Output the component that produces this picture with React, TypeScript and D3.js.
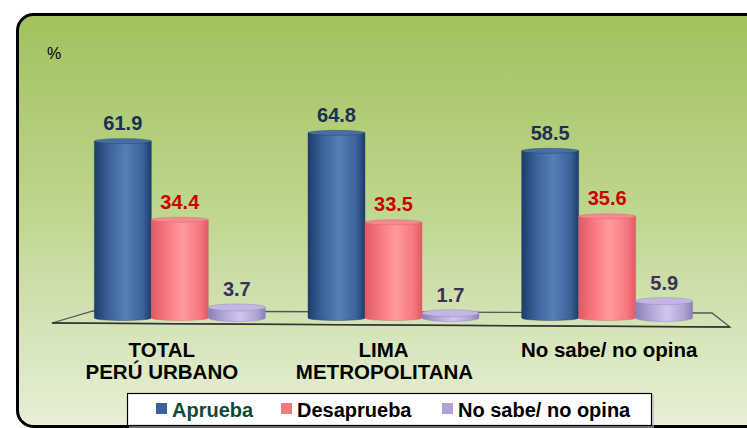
import React from "react";
import * as d3 from "d3";

const categories = [["TOTAL", "PERÚ URBANO"], ["LIMA", "METROPOLITANA"], ["No sabe/ no opina"]];
const seriesNames = ["Aprueba", "Desaprueba", "No sabe/ no opina"];
const aprueba = [61.9, 64.8, 58.5];
const desaprueba = [34.4, 33.5, 35.6];
const noSabe = [3.7, 1.7, 5.9];
const seriesValues = [aprueba, desaprueba, noSabe];

const W = 747, H = 428;
const FONT = "'Liberation Sans', Arial, Helvetica, sans-serif";

const palettes = [
  { dark: "#1d3c6a", mid: "#3a6399", light: "#557fb5", top: "#4670a5", label: "#1c2f52" },
  { dark: "#e05a63", mid: "#f7777e", light: "#ff9a9f", top: "#f28a8f", label: "#cc0000" },
  { dark: "#8d7fb7", mid: "#b1a2d6", light: "#d2c6ee", top: "#c3b5e4", label: "#3b2f5e" },
];
const legendText = ["#0f4a34", "#000000", "#000000"];
// horizontal offsets of category label lines relative to group centre
const labelShift = [[-18, -18], [-10, -9], [2]];

export default function App() {
  const base = 318;
  const x0 = d3.scaleBand<number>().domain(d3.range(categories.length)).range([73, 714]);
  const x1 = d3.scaleBand<number>().domain(d3.range(seriesNames.length)).range([0, 171]);
  const y = d3.scaleLinear().domain([0, 70]).range([base, 118]);
  const groupOffset = (x0.bandwidth() - 171) / 2;

  return (
    <svg width={W} height={H} style={{ position: "absolute", left: 0, top: 0, display: "block" }}>
      <defs>
        <linearGradient id="bg" x1="0" y1="0" x2="0" y2="1">
          <stop offset="0%" stopColor="#a1c25d" />
          <stop offset="45%" stopColor="#bcd58c" />
          <stop offset="100%" stopColor="#e7f0d8" />
        </linearGradient>
        {palettes.map((p, i) => (
          <linearGradient key={i} id={`cyl${i}`} x1="0" y1="0" x2="1" y2="0">
            <stop offset="0%" stopColor={p.dark} />
            <stop offset="25%" stopColor={p.mid} />
            <stop offset="55%" stopColor={p.light} />
            <stop offset="85%" stopColor={p.mid} />
            <stop offset="100%" stopColor={p.dark} />
          </linearGradient>
        ))}
      </defs>
      <rect x={17.5} y={14.5} width={780} height={412} rx={16} fill="url(#bg)" stroke="#000" strokeWidth={3} />
      <text x={47} y={59} fontFamily={FONT} fontSize={16} fill="#000">%</text>

      {/* floor */}
      <path d="M93,311 L712,313 L730,327 L52,323 Z" fill="none" stroke="#555" strokeWidth={1.3} />
      <path d="M52,323 L730,327" stroke="#333" strokeWidth={1.6} />

      {categories.map((cat, ci) => (
        <g key={ci} transform={`translate(${(x0(ci) as number) + groupOffset},0)`}>
          {seriesValues.map((vals, si) => {
            const v = vals[ci];
            const bx = x1(si) as number;
            const bw = x1.bandwidth();
            const top = y(v);
            const ry = si === 2 ? 3.5 : 2.5;
            const p = palettes[si];
            return (
              <g key={si}>
                <path
                  d={`M${bx},${top} L${bx},${base} A${bw / 2},${ry} 0 0 0 ${bx + bw},${base} L${bx + bw},${top} Z`}
                  fill={`url(#cyl${si})`}
                  stroke={p.dark}
                  strokeOpacity={0.5}
                  strokeWidth={0.8}
                />
                <ellipse cx={bx + bw / 2} cy={top} rx={bw / 2} ry={ry} fill={p.top} stroke={p.dark} strokeOpacity={0.5} strokeWidth={0.8} />
                <text
                  x={bx + bw / 2}
                  y={top - 11}
                  textAnchor="middle"
                  fontFamily={FONT}
                  fontWeight="bold"
                  fontSize={20}
                  fill={p.label}
                >
                  {v.toFixed(1)}
                </text>
              </g>
            );
          })}
          {cat.map((line, li) => (
            <text
              key={li}
              x={85.5 + labelShift[ci][li]}
              y={357 + li * 21.5}
              textAnchor="middle"
              fontFamily={FONT}
              fontWeight="bold"
              fontSize={20.5}
              fill="#000"
            >
              {line}
            </text>
          ))}
        </g>
      ))}

      {/* legend */}
      <rect x={129} y={395} width={525} height={33} fill="#bbb" opacity={0.6} />
      <rect x={127.5} y={393.5} width={524} height={32} fill="#fff" stroke="#000" strokeWidth={1.2} />
      {seriesNames.map((s, i) => {
        const lx = [156, 281, 442][i];
        return (
          <g key={i}>
            <rect x={lx} y={403} width={11} height={11} fill={palettes[i].mid} />
            <text x={lx + 16} y={416.5} fontFamily={FONT} fontWeight="bold" fontSize={20} fill={legendText[i]}>
              {s}
            </text>
          </g>
        );
      })}
    </svg>
  );
}
